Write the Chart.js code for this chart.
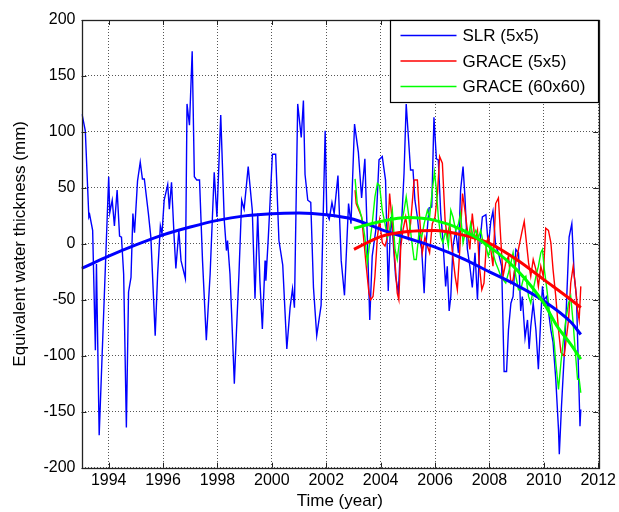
<!DOCTYPE html>
<html>
<head>
<meta charset="utf-8">
<script src="https://cdn.jsdelivr.net/npm/chart.js@4.4.0/dist/chart.umd.min.js"></script>
<style>
  html, body { margin: 0; padding: 0; background: #fff; }
</style>
</head>
<body>
<canvas id="chart" width="619" height="512"></canvas>
<script>
// values
const xTicks = [1994, 1996, 1998, 2000, 2002, 2004, 2006, 2008, 2010, 2012];
const yTicks = [-200, -150, -100, -50, 0, 50, 100, 150, 200];

const slrYears = [1993.02, 1993.14, 1993.27, 1993.30, 1993.41, 1993.51, 1993.55, 1993.65, 1994.00, 1994.04,
  1994.13, 1994.21, 1994.31, 1994.40, 1994.47, 1994.55, 1994.65, 1994.73, 1994.82, 1994.89,
  1994.95, 1995.06, 1995.16, 1995.24, 1995.31, 1995.46, 1995.55, 1995.71, 1995.80, 1995.90,
  1995.96, 1996.04, 1996.17, 1996.23, 1996.31, 1996.41, 1996.47, 1996.58, 1996.66, 1996.82,
  1996.88, 1996.97, 1997.07, 1997.15, 1997.24, 1997.34, 1997.45, 1997.59, 1997.73, 1997.88,
  1997.98, 1998.12, 1998.25, 1998.33, 1998.37, 1998.46, 1998.52, 1998.62, 1998.70, 1998.79,
  1998.89, 1998.98, 1999.13, 1999.28, 1999.38, 1999.48, 1999.56, 1999.65, 1999.75, 1999.78,
  1999.87, 2000.02, 2000.14, 2000.26, 2000.40, 2000.55, 2000.67, 2000.76, 2000.83, 2000.95,
  2001.08, 2001.16, 2001.22, 2001.32, 2001.43, 2001.53, 2001.65, 2001.81, 2001.96, 2002.02,
  2002.11, 2002.21, 2002.29, 2002.43, 2002.55, 2002.67, 2002.82, 2002.91, 2003.04, 2003.18,
  2003.30, 2003.42, 2003.51, 2003.60, 2003.69, 2003.82, 2003.94, 2004.06, 2004.18, 2004.28,
  2004.37, 2004.45, 2004.55, 2004.65, 2004.77, 2004.86, 2004.94, 2005.10, 2005.19, 2005.26,
  2005.35, 2005.44, 2005.51, 2005.60, 2005.68, 2005.78, 2005.88, 2005.96, 2006.05, 2006.12,
  2006.21, 2006.29, 2006.39, 2006.45, 2006.52, 2006.58, 2006.66, 2006.76, 2006.86, 2006.94,
  2007.03, 2007.10, 2007.19, 2007.28, 2007.37, 2007.47, 2007.56, 2007.64, 2007.74, 2007.87,
  2007.96, 2008.05, 2008.13, 2008.23, 2008.33, 2008.45, 2008.54, 2008.63, 2008.70, 2008.79,
  2008.87, 2008.97, 2009.07, 2009.15, 2009.21, 2009.31, 2009.40, 2009.46, 2009.52, 2009.61,
  2009.71, 2009.80, 2009.89, 2009.95, 2010.01, 2010.10, 2010.17, 2010.26, 2010.34, 2010.44,
  2010.54, 2010.57, 2010.65, 2010.75, 2010.83, 2010.93, 2011.03, 2011.12, 2011.20, 2011.28,
  2011.33, 2011.36];
const slrValues = [116, 101, 24, 26, 12, -95, -18, -171, 60, 28,
  39, 16, 48, 7, 6, -27, -164, -43, -30, 27,
  10, 56, 73, 58, 58, 27, 6, -82, -27, 16,
  9, 39, 53, 31, 55, 4, -22, 12, -15, -31,
  125, 106, 172, 60, 57, 57, -15, -86, -27, 64,
  24, 115, 21, -6, 3, -27, -62, -125, -77, -27,
  39, 31, 69, 30, -49, 27, -33, -76, -15, -33,
  6, 80, 80, 3, -19, -94, -57, -40, -57, 125,
  95, 128, 62, 39, 37, -39, -82, -55, 101, 27,
  22, 37, 27, 61, -15, -46, 36, 18, 107, 82,
  41, 76, 6, -68, -11, 12, 75, 78, 57, -42,
  24, 6, -29, -44, 18, 63, 125, 66, 66, 39,
  24, 3, -5, -44, 3, 32, 33, 113, 76, 75,
  27, 3, -38, -20, -60, -47, -2, 12, -8, 48,
  69, 42, -5, -20, -39, -8, -50, -2, 24, 26,
  -2, 20, 29, -2, -8, -20, -114, -114, -77, -53,
  -47, -5, -8, -60, -47, -84, -68, -94, -74, -53,
  -77, -112, -65, -38, -50, -47, -60, -77, -88, -121,
  -166, -188, -145, -100, -56, 6, 18, -29, -47, -118,
  -163, -148];

const grace5Years = [2003.06, 2003.10, 2003.20, 2003.30, 2003.39, 2003.47, 2003.57, 2003.63, 2003.72, 2003.79,
  2003.88, 2003.96, 2004.06, 2004.16, 2004.25, 2004.33, 2004.43, 2004.53, 2004.61, 2004.67,
  2004.74, 2004.82, 2004.92, 2005.02, 2005.10, 2005.23, 2005.35, 2005.44, 2005.53, 2005.63,
  2005.72, 2005.80, 2005.90, 2006.00, 2006.09, 2006.17, 2006.27, 2006.37, 2006.45, 2006.54,
  2006.64, 2006.74, 2006.82, 2006.91, 2007.01, 2007.10, 2007.19, 2007.28, 2007.37, 2007.47,
  2007.56, 2007.62, 2007.72, 2007.80, 2007.89, 2007.96, 2008.05, 2008.13, 2008.23, 2008.33,
  2008.42, 2008.50, 2008.60, 2008.70, 2008.79, 2008.87, 2008.97, 2009.09, 2009.19, 2009.28,
  2009.34, 2009.44, 2009.52, 2009.61, 2009.71, 2009.80, 2009.89, 2009.98, 2010.07, 2010.17,
  2010.26, 2010.34, 2010.44, 2010.54, 2010.63, 2010.75, 2010.81, 2010.91, 2010.99, 2011.08,
  2011.15, 2011.24, 2011.30, 2011.36];
const grace5Values = [48, 36, 30, 24, 1, -20, -44, -50, -47, -29,
  6, 21, 1, -2, 6, 45, 18, -17, -44, -50,
  -2, 12, 24, 6, 18, 57, 57, 21, -8, 6,
  -2, -8, 18, 24, 45, 78, 72, 21, 6, 18,
  -8, -29, -41, -5, 45, 30, 12, -5, 27, 3,
  12, -17, -41, -35, 1, 6, -5, -20, 36, 41,
  3, -29, -17, -11, -35, -32, -17, -2, 10, 20,
  6, -17, -29, -14, -23, -38, -20, -29, 14, 12,
  1, -23, -47, -77, -97, -100, -88, -68, -35, -20,
  -35, -59, -68, -38];

const grace60Years = [2003.06, 2003.14, 2003.23, 2003.33, 2003.42, 2003.51, 2003.60, 2003.69, 2003.79, 2003.88,
  2003.96, 2004.06, 2004.16, 2004.25, 2004.33, 2004.43, 2004.53, 2004.61, 2004.67, 2004.77,
  2004.86, 2004.94, 2005.04, 2005.14, 2005.23, 2005.31, 2005.41, 2005.51, 2005.60, 2005.72,
  2005.80, 2005.90, 2005.98, 2006.05, 2006.12, 2006.21, 2006.29, 2006.39, 2006.49, 2006.58,
  2006.66, 2006.76, 2006.86, 2006.94, 2007.03, 2007.13, 2007.23, 2007.31, 2007.40, 2007.50,
  2007.60, 2007.68, 2007.77, 2007.87, 2007.96, 2008.05, 2008.13, 2008.23, 2008.33, 2008.42,
  2008.50, 2008.60, 2008.70, 2008.79, 2008.87, 2008.97, 2009.07, 2009.15, 2009.24, 2009.34,
  2009.44, 2009.52, 2009.61, 2009.71, 2009.80, 2009.89, 2009.95, 2010.02, 2010.10, 2010.20,
  2010.29, 2010.38, 2010.44, 2010.54, 2010.63, 2010.71, 2010.81, 2010.91, 2010.99, 2011.08,
  2011.15, 2011.24, 2011.30, 2011.36];
const grace60Values = [58, 36, 30, 21, 6, -17, 1, 18, 42, 54,
  52, 30, 18, 6, 12, 30, -5, -14, -2, 18,
  30, 42, 24, 3, -14, -14, 10, 6, 18, 30,
  24, 48, 64, 48, 24, 6, 1, 12, -2, 30,
  24, 12, 18, 27, 1, 12, 6, 18, 6, 12,
  6, 12, 1, -2, -11, -2, -8, -17, -23, -29,
  -32, -35, -26, -17, -8, -29, -41, -41, -32, -29,
  -47, -53, -41, -29, -20, -8, -5, -23, -38, -59,
  -71, -88, -106, -130, -106, -88, -68, -53, -47, -71,
  -94, -121, -121, -133];

// fitted trends
const slrTrendYears = [1993, 1994, 1995, 1996, 1997, 1998, 1999, 2000, 2001, 2002,
  2003, 2004, 2005, 2006, 2007, 2008, 2009, 2010, 2011, 2011.36];
const slrTrendValues = [-22, -11, -1, 8, 15, 21, 25, 27, 27.5, 26,
  22, 13, 5, -3, -13, -25, -37, -51, -70, -81];
const grace5TrendYears = [2003.02, 2003.5, 2004, 2005, 2006, 2007, 2008, 2009, 2010, 2011, 2011.36];
const grace5TrendValues = [-5, 1, 6.5, 11, 12, 8, 0.5, -14, -32, -50, -57];
const grace60TrendYears = [2003.02, 2004, 2005, 2006, 2007, 2008, 2009, 2010, 2010.5, 2011, 2011.36];
const grace60TrendValues = [14, 20, 23.5, 21, 12.5, -2.5, -23, -53, -74, -90, -103];

const toPoints = function (xs, ys) {
    let pts = [];
    for (var i = 0; i < xs.length; i++) {
        pts.push({x: xs[i], y: ys[i]});
    }
    return pts;
};

const FONT = "'Liberation Sans', Arial, Helvetica, sans-serif";

const rawLine = function (label, xs, ys, color, order) {
    return {
        label: label,
        data: toPoints(xs, ys),
        borderColor: color,
        backgroundColor: color,
        borderWidth: 1.4,
        pointRadius: 0,
        showLine: true,
        tension: 0,
        order: order
    };
};

const trendLine = function (xs, ys, color, order) {
    return {
        label: '',
        trend: true,
        data: toPoints(xs, ys),
        borderColor: color,
        backgroundColor: color,
        borderWidth: 3,
        pointRadius: 0,
        showLine: true,
        cubicInterpolationMode: 'monotone',
        order: order
    };
};

// axes box, inward ticks and the boxed legend in the top right corner
const matlabFrame = {
    id: 'matlabFrame',
    afterDraw(chart) {
        const ctx = chart.ctx;
        const a = chart.chartArea;
        const xs = chart.scales.x, ys = chart.scales.y;
        ctx.save();
        ctx.strokeStyle = '#222';
        ctx.lineWidth = 1;
        ctx.beginPath();
        xTicks.forEach(v => {
            const px = Math.round(xs.getPixelForValue(v)) + 0.5;
            ctx.moveTo(px, a.bottom); ctx.lineTo(px, a.bottom - 5);
            ctx.moveTo(px, a.top); ctx.lineTo(px, a.top + 5);
        });
        yTicks.forEach(v => {
            const py = Math.round(ys.getPixelForValue(v)) + 0.5;
            ctx.moveTo(a.left, py); ctx.lineTo(a.left + 5, py);
            ctx.moveTo(a.right, py); ctx.lineTo(a.right - 5, py);
        });
        ctx.stroke();
        ctx.lineWidth = 1.3;
        ctx.strokeRect(Math.round(a.left) + 0.5, Math.round(a.top) + 0.5,
            Math.round(a.right - a.left), Math.round(a.bottom - a.top));

        // legend
        const items = chart.data.datasets.filter(d => !d.trend);
        const bw = 208, bh = 82;
        const bx = Math.round(a.right) - bw + 0.5, by = Math.round(a.top) + 0.5;
        ctx.fillStyle = '#fff';
        ctx.fillRect(bx, by, bw, bh);
        ctx.strokeStyle = '#000';
        ctx.lineWidth = 1.2;
        ctx.strokeRect(bx, by, bw, bh);
        ctx.font = '17px ' + FONT;
        ctx.textBaseline = 'middle';
        ctx.textAlign = 'left';
        items.forEach((d, i) => {
            const y = by + 15 + i * 25.5;
            ctx.strokeStyle = d.borderColor;
            ctx.lineWidth = 1.4;
            ctx.beginPath();
            ctx.moveTo(bx + 10, y); ctx.lineTo(bx + 66, y);
            ctx.stroke();
            ctx.fillStyle = '#000';
            ctx.fillText(d.label, bx + 72, y + 1);
        });
        ctx.restore();
    }
};

new Chart(document.getElementById('chart'), {
    type: 'scatter',
    data: {
        datasets: [
            rawLine('SLR (5x5)', slrYears, slrValues, '#0000ff', 6),
            rawLine('GRACE (5x5)', grace5Years, grace5Values, '#ff0000', 5),
            rawLine('GRACE (60x60)', grace60Years, grace60Values, '#00ff00', 4),
            trendLine(slrTrendYears, slrTrendValues, '#0000ff', 3),
            trendLine(grace5TrendYears, grace5TrendValues, '#ff0000', 2),
            trendLine(grace60TrendYears, grace60TrendValues, '#00ff00', 1)
        ]
    },
    options: {
        responsive: false,
        animation: false,
        devicePixelRatio: 1,
        layout: {
            padding: {left: 0, top: 20, right: 19.7, bottom: 0}
        },
        scales: {
            x: {
                type: 'linear',
                min: 1993,
                max: 2012,
                afterBuildTicks: function (scale) {
                    scale.ticks = xTicks.map(v => ({value: v}));
                },
                afterFit: function (scale) {
                    scale.height = 44.3;
                },
                ticks: {
                    color: '#000',
                    font: {family: FONT, size: 16},
                    padding: 3,
                    maxRotation: 0,
                    callback: v => String(v)
                },
                grid: {
                    color: '#555',
                    lineWidth: 1,
                    drawTicks: false
                },
                border: {display: false, dash: [1, 2]},
                title: {
                    display: true,
                    text: 'Time (year)',
                    color: '#000',
                    font: {family: FONT, size: 17},
                    padding: {top: 0, bottom: 0}
                }
            },
            y: {
                type: 'linear',
                min: -200,
                max: 200,
                afterBuildTicks: function (scale) {
                    scale.ticks = yTicks.map(v => ({value: v}));
                },
                afterFit: function (scale) {
                    scale.width = 81.5;
                },
                ticks: {
                    color: '#000',
                    font: {family: FONT, size: 16},
                    padding: 6,
                    callback: v => String(v)
                },
                grid: {
                    color: '#555',
                    lineWidth: 1,
                    drawTicks: false
                },
                border: {display: false, dash: [1, 2]},
                title: {
                    display: true,
                    text: 'Equivalent water thickness (mm)',
                    color: '#000',
                    font: {family: FONT, size: 17},
                    padding: {top: 10, bottom: 0}
                }
            }
        },
        plugins: {
            legend: {display: false},
            tooltip: {enabled: false}
        }
    },
    plugins: [matlabFrame]
});
</script>
</body>
</html>
